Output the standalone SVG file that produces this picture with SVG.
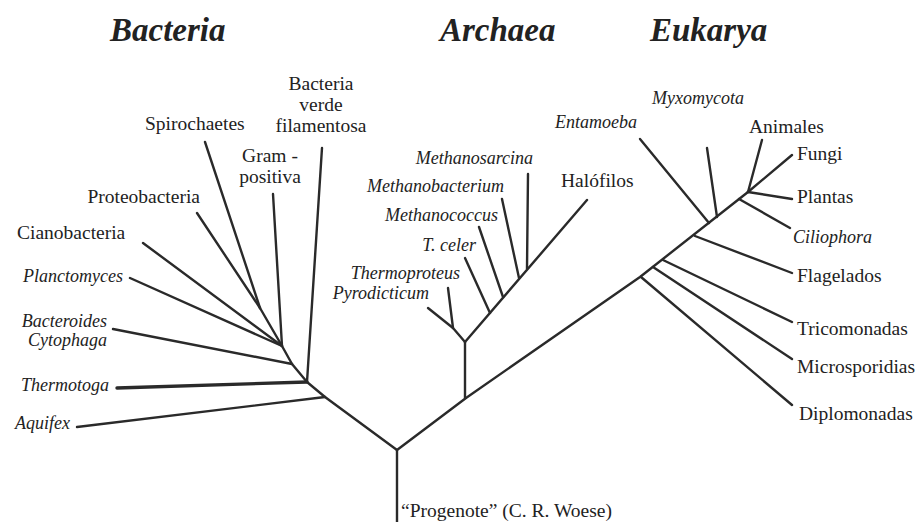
<svg xmlns="http://www.w3.org/2000/svg" width="924" height="522" viewBox="0 0 924 522">
<style>
text{font-family:"Liberation Serif","Times New Roman",serif;fill:#222}
.t{font-size:33px;font-weight:bold;font-style:italic}
.r{font-size:19.5px}
.i{font-size:18px;font-style:italic}
.e{text-anchor:end}
.m{text-anchor:middle}
#edges line,#edges polyline{stroke:#2a2a2a;stroke-width:2.4;fill:none;stroke-linecap:round;stroke-linejoin:round}
</style>
<rect width="924" height="522" fill="#fff"/>
<g id="titles">
<text class="t" x="110" y="41">Bacteria</text>
<text class="t" x="440" y="41">Archaea</text>
<text class="t" x="650" y="41">Eukarya</text>
</g>
<g id="edges">
<line x1="397" y1="522" x2="397" y2="450"/>
<polyline points="397,450 325,397 307,382 292,364 282,346 260,308"/>
<line x1="325" y1="397" x2="77" y2="427"/>
<line x1="307" y1="382" x2="117" y2="388" style="stroke-width:3.4"/>
<line x1="307" y1="382" x2="322" y2="148"/>
<line x1="292" y1="364" x2="113" y2="329"/>
<line x1="282" y1="346" x2="273" y2="194"/>
<line x1="282" y1="346" x2="130" y2="278"/>
<line x1="282" y1="346" x2="143" y2="243"/>
<line x1="260" y1="308" x2="205" y2="142"/>
<line x1="260" y1="308" x2="197" y2="213"/>
<polyline points="397,450 466,398 640,277 748,192"/>
<line x1="465" y1="398" x2="465" y2="342"/>
<polyline points="465,342 453,328 448,288"/>
<line x1="453" y1="328" x2="428" y2="308"/>
<line x1="465" y1="342" x2="587" y2="200"/>
<line x1="490" y1="313" x2="465" y2="258"/>
<line x1="503" y1="297" x2="479" y2="227"/>
<line x1="519" y1="278" x2="502" y2="199"/>
<line x1="527" y1="269" x2="528" y2="174"/>
<line x1="641" y1="277" x2="792" y2="405"/>
<line x1="653" y1="267" x2="792" y2="359"/>
<line x1="663" y1="260" x2="792" y2="322"/>
<line x1="695" y1="236" x2="792" y2="273"/>
<line x1="709" y1="223" x2="640" y2="139"/>
<line x1="717" y1="217" x2="707" y2="148"/>
<line x1="739" y1="199" x2="790" y2="228"/>
<line x1="748" y1="192" x2="762" y2="140"/>
<line x1="748" y1="192" x2="792" y2="155"/>
<line x1="748" y1="192" x2="792" y2="199"/>
</g>
<g id="bacteria-verde"><text class="r m" x="321" y="90">Bacteria</text><text class="r m" x="321" y="111">verde</text><text class="r m" x="321" y="132">filamentosa</text></g>
<g id="spirochaetes"><text class="r" x="145" y="130">Spirochaetes</text></g>
<g id="gram-positiva"><text class="r m" x="270" y="162">Gram -</text><text class="r m" x="270" y="183">positiva</text></g>
<g id="proteobacteria"><text class="r e" x="200" y="203">Proteobacteria</text></g>
<g id="cianobacteria"><text class="r" x="17" y="239">Cianobacteria</text></g>
<g id="planctomyces"><text class="i e" x="123" y="282">Planctomyces</text></g>
<g id="bacteroides"><text class="i e" x="107" y="327">Bacteroides</text><text class="i e" x="107" y="346">Cytophaga</text></g>
<g id="thermotoga"><text class="i e" x="109" y="391">Thermotoga</text></g>
<g id="aquifex"><text class="i e" x="70" y="429">Aquifex</text></g>
<g id="methanosarcina"><text class="i e" x="533" y="164">Methanosarcina</text></g>
<g id="methanobacterium"><text class="i e" x="504" y="192">Methanobacterium</text></g>
<g id="methanococcus"><text class="i e" x="498" y="221">Methanococcus</text></g>
<g id="tceler"><text class="i e" x="476" y="251">T. celer</text></g>
<g id="thermoproteus"><text class="i e" x="460" y="279">Thermoproteus</text></g>
<g id="pyrodicticum"><text class="i e" x="429" y="299">Pyrodicticum</text></g>
<g id="halofilos"><text class="r" x="561" y="187">Halófilos</text></g>
<g id="myxomycota"><text class="i" x="652" y="104">Myxomycota</text></g>
<g id="entamoeba"><text class="i e" x="637" y="128">Entamoeba</text></g>
<g id="animales"><text class="r" x="749" y="133">Animales</text></g>
<g id="fungi"><text class="r" x="797" y="160">Fungi</text></g>
<g id="plantas"><text class="r" x="797" y="203">Plantas</text></g>
<g id="ciliophora"><text class="i" x="793" y="243">Ciliophora</text></g>
<g id="flagelados"><text class="r" x="797" y="282">Flagelados</text></g>
<g id="tricomonadas"><text class="r" x="797" y="335">Tricomonadas</text></g>
<g id="microsporidias"><text class="r" x="797" y="373">Microsporidias</text></g>
<g id="diplomonadas"><text class="r" x="799" y="420">Diplomonadas</text></g>
<g id="progenote"><text class="r" x="401" y="517">“Progenote” (C. R. Woese)</text></g>
</svg>
